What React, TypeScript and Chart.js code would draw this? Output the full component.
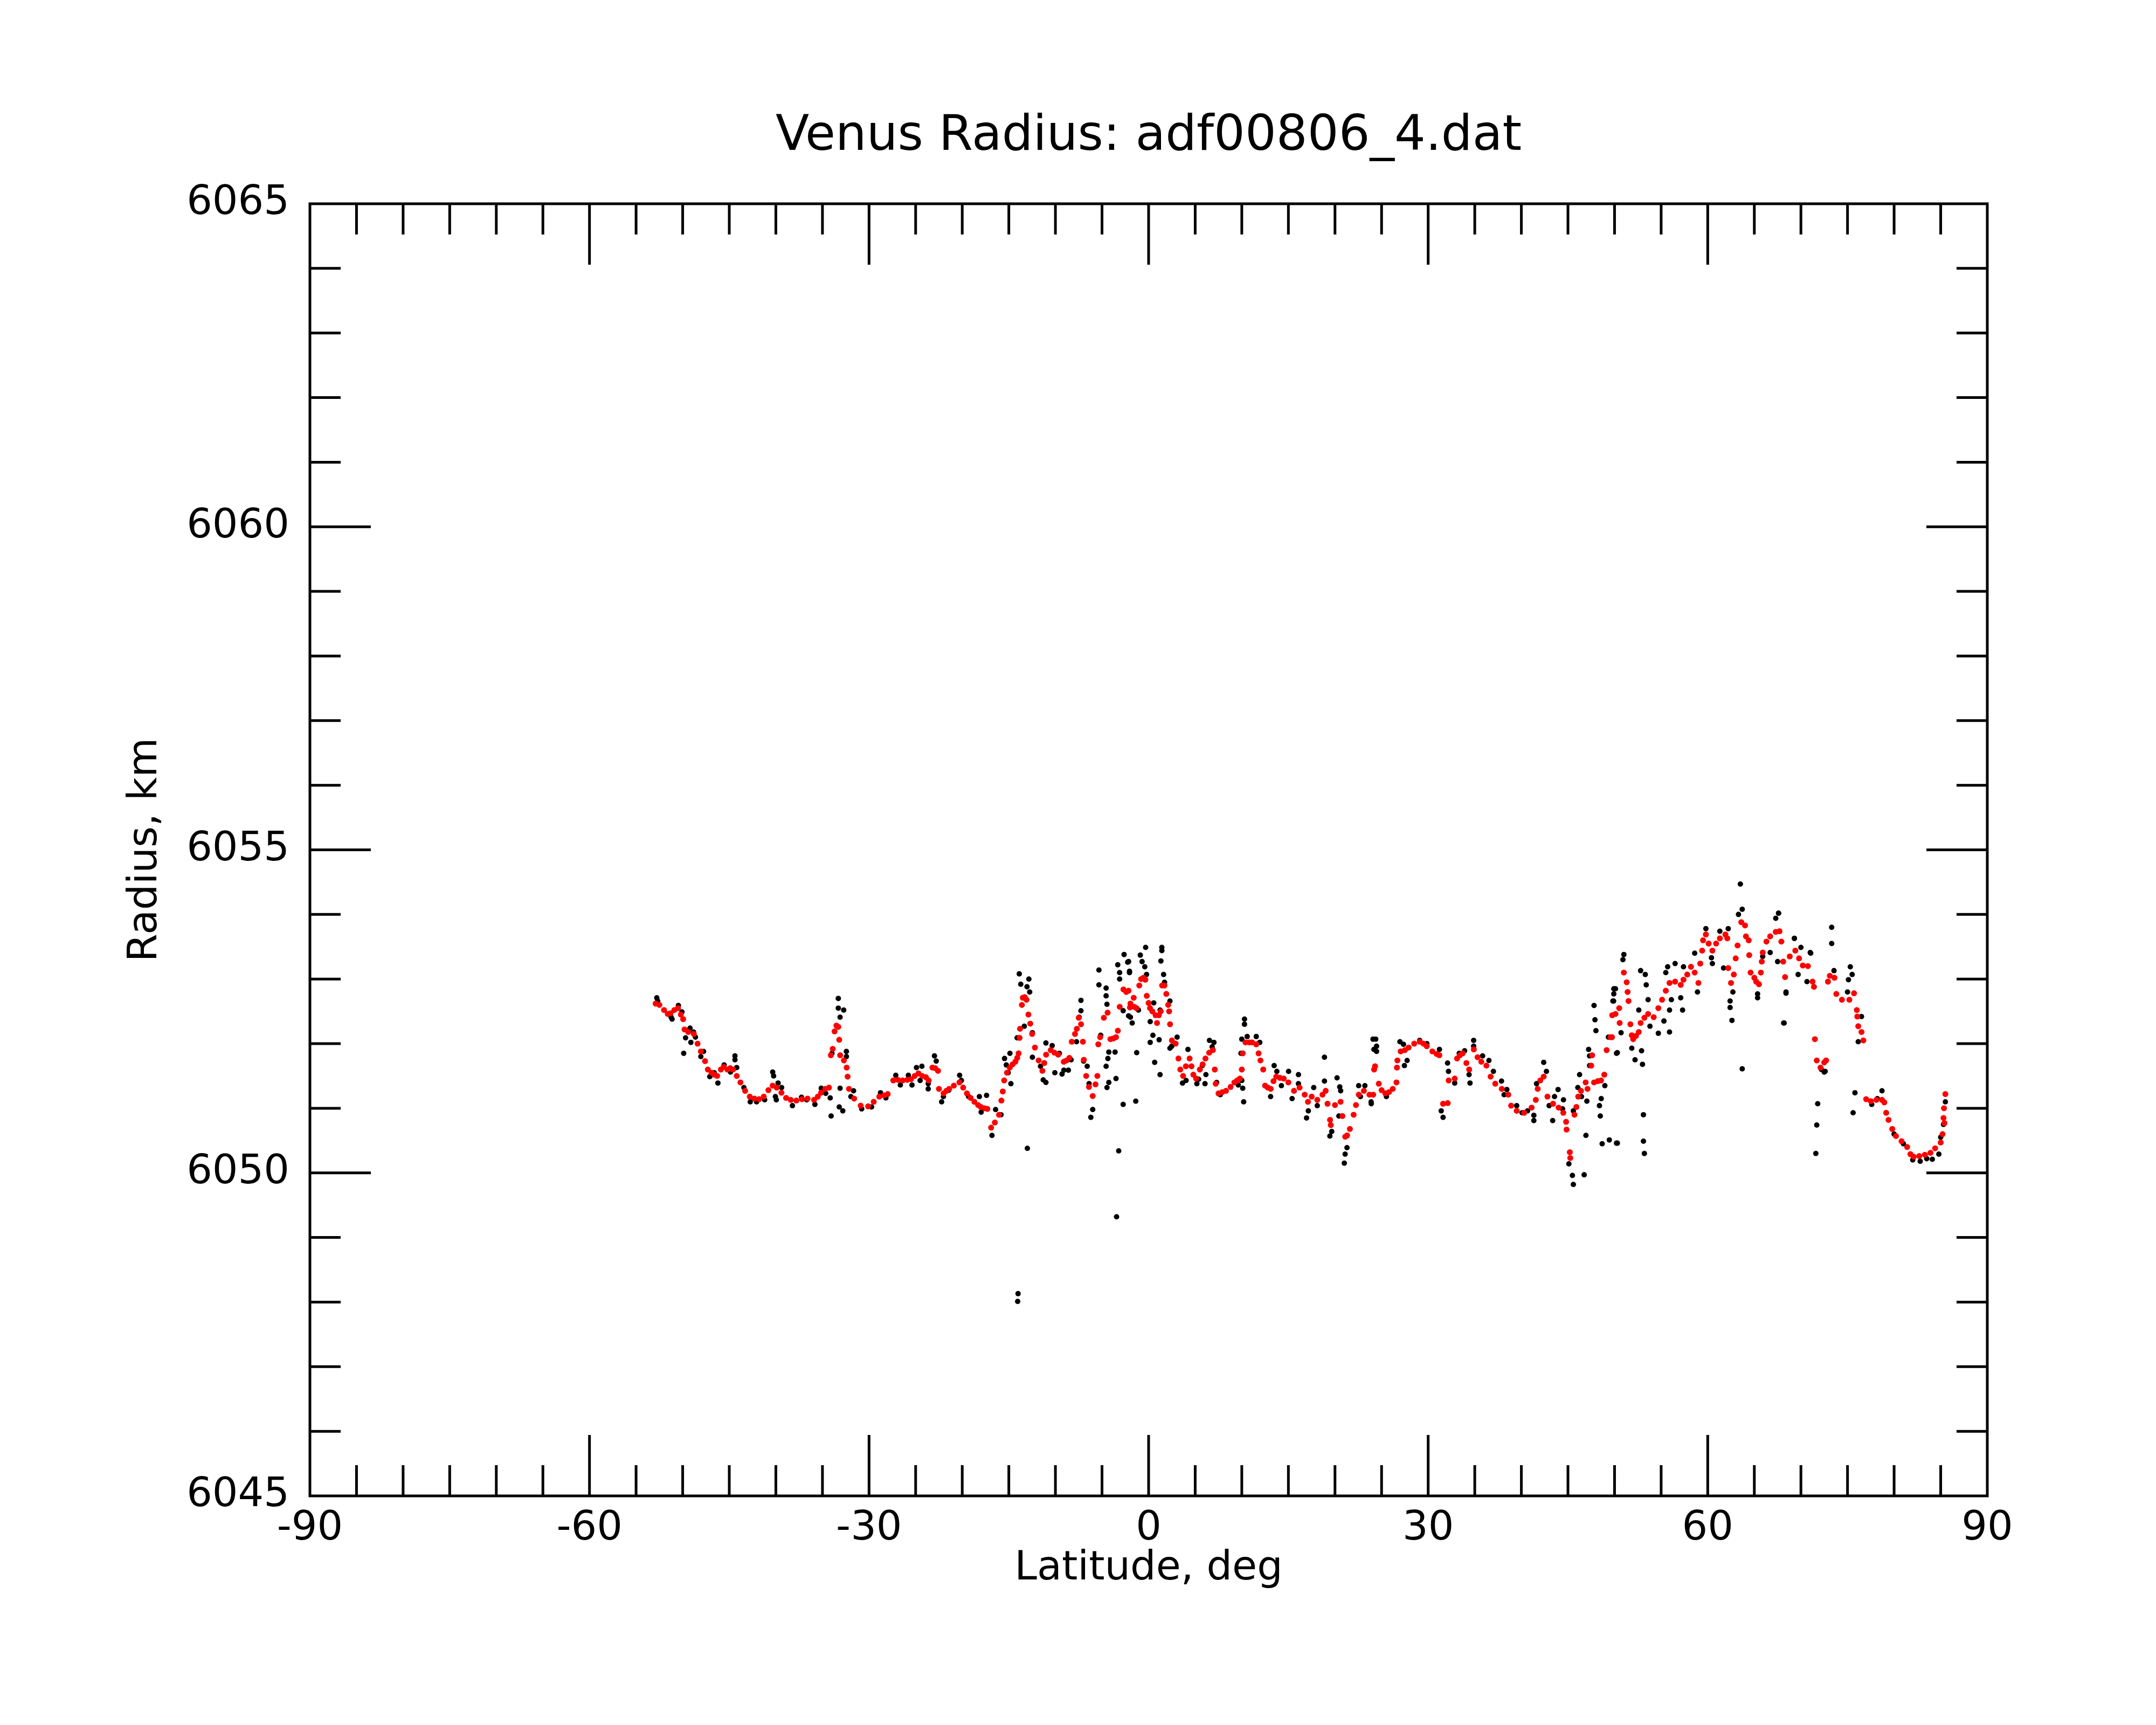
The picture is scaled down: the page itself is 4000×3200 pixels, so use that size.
import React, { useEffect, useRef } from 'react';
import Chart from 'chart.js/auto';

// smoothed radius profile (red)
const redLat = [
  -52.9, -52.5, -52.0, -51.6, -51.3, -50.9, -50.5, -50.2, -49.95, -49.8, -49.4, -48.8, -48.4, -48.05, -47.6, -47.3,
  -46.9, -46.6, -46.3, -45.9, -45.6, -45.2, -44.9, -44.6, -44.2, -43.8, -43.3, -42.8, -42.3, -41.8, -41.3, -40.8,
  -40.35, -39.9, -39.4, -38.9, -38.4, -37.8, -37.2, -36.6, -35.9, -35.5, -35.15, -34.7, -34.3, -34.1, -33.9, -33.7,
  -33.5, -33.3, -33.2, -33.1, -32.7, -32.4, -32.3, -32.15, -31.6, -30.9, -30.1, -29.5, -28.9, -28.4, -28.0,
  -27.4, -26.9, -26.4, -25.9, -25.5, -25.1, -24.7, -24.3, -23.9, -23.6, -23.2, -22.9, -22.6, -22.5, -22.0, -21.7,
  -21.4, -20.9, -20.3, -19.9, -19.5, -19.1, -18.7, -18.3, -18.0, -17.6, -17.3, -16.9, -16.5, -16.05, -15.8, -15.65,
  -15.5, -15.2, -14.9, -14.6, -14.3, -14.1, -13.95, -13.85, -13.8, -13.6, -13.5, -13.3, -13.1, -12.9, -12.7, -12.5,
  -12.2, -11.8, -11.4, -11.2, -11.0, -10.5, -10.1, -9.7, -9.1, -8.8, -8.5, -8.25, -7.9, -7.7, -7.5, -7.25, -7.05,
  -6.95, -6.7, -6.4, -6.0, -5.7, -5.5, -5.4, -5.2, -4.8, -4.4, -4.1, -3.8, -3.5, -3.3, -3.1, -2.7, -2.4,
  -2.15, -2.0, -1.95, -1.6, -1.55, -1.3, -1.0, -0.8, -0.55, -0.35, -0.2, 0.0, 0.15, 0.4, 0.75, 0.9, 1.1, 1.3, 1.45,
  1.7, 1.9, 2.1, 2.2, 2.3, 2.5, 2.9, 3.2, 3.4, 3.7, 4.0, 4.4, 4.6, 4.8, 5.1, 5.5, 5.8, 6.1, 6.5, 6.9, 7.1, 7.2, 7.5,
  7.9, 8.3, 8.8, 9.2, 9.5, 9.8, 10.0, 10.1, 10.4, 10.8, 11.1, 11.55, 11.8, 12.0, 12.3, 12.5, 12.8, 13.1, 13.4, 13.7,
  14.1, 14.5, 15.0, 15.6, 16.2, 16.75, 17.1, 17.5, 18.1, 18.66, 19.0, 19.2, 19.47, 19.55, 20.0, 20.6, 20.8, 21.1,
  21.3, 21.6, 22.0, 22.25, 22.55, 23.1, 23.7,
  24.1, 24.2, 24.3, 24.7, 25.0, 25.4, 25.8, 26.2, 26.6, 26.65, 26.7, 27.05, 27.5, 27.9, 28.5, 29.1, 29.5, 29.85,
  30.45, 30.9, 31.2, 31.6, 32.1, 32.2, 32.85, 33.1, 33.4, 33.7, 34.1, 34.4, 34.9, 35.3, 35.7, 36.25, 36.7, 37.2,
  37.9, 38.6, 38.9, 39.5, 40.3, 41.1, 41.55, 41.75, 42.03, 42.4, 42.8, 43.4, 44.0, 44.5, 44.8, 44.85, 45.2, 45.25,
  45.7, 45.9, 46.1, 46.4, 46.9, 47.1, 47.5, 47.6, 47.8, 48.2, 48.55, 48.9, 49.15, 49.55, 49.73, 49.75,
  50.1, 50.5, 50.55, 51.0, 51.3, 51.4, 51.5, 51.7, 51.85, 52.0, 52.3, 52.6, 52.8, 53.2, 53.6, 54.2, 54.7, 55.1,
  55.5, 55.9, 56.5, 57.1, 57.4, 57.8, 58.2, 58.6, 59.0, 59.2, 59.4, 59.5, 59.8, 60.1, 60.5, 60.9, 61.3, 61.9, 62.1,
  62.2, 62.5, 62.8, 63.0, 63.2, 63.6, 64.0, 64.1, 64.4, 64.45, 64.6, 65.0, 65.2, 65.5, 65.7, 65.8, 65.9, 66.3, 66.7,
  67.3, 67.7, 67.9, 68.1, 68.3, 68.8, 69.4, 69.8, 70.2, 70.75, 71.25, 71.4, 71.5, 71.7, 72.1, 72.5, 72.7, 72.9, 73.1,
  73.6, 73.8, 74.4, 75.2, 75.7, 76.0, 76.05, 76.15, 76.5, 76.7, 77.0, 77.5, 78.1, 78.7, 78.95, 79.15, 79.4, 79.8,
  80.2, 80.8, 81.4, 81.75, 82.1, 82.7, 83.3, 83.9, 84.4, 85.0, 85.2, 85.3, 85.35, 85.4, 85.5,
];
const redRadius = [
  6052.62, 6052.60, 6052.52, 6052.46, 6052.47, 6052.52, 6052.55, 6052.45, 6052.38, 6052.22, 6052.18, 6052.15, 6052.00, 6051.88, 6051.73, 6051.60,
  6051.55, 6051.52, 6051.50, 6051.60, 6051.64, 6051.60, 6051.62, 6051.60, 6051.50, 6051.40, 6051.27, 6051.18, 6051.15, 6051.14, 6051.18, 6051.28,
  6051.35, 6051.32, 6051.24, 6051.16, 6051.13, 6051.12, 6051.14, 6051.15, 6051.13, 6051.18, 6051.24, 6051.30, 6051.32, 6051.82, 6051.92, 6052.19,
  6052.28, 6052.26, 6052.06, 6051.82, 6051.74, 6051.63, 6051.49, 6051.30, 6051.15, 6051.04, 6051.03, 6051.10, 6051.18, 6051.20, 6051.22,
  6051.43, 6051.44, 6051.43, 6051.44, 6051.45, 6051.50, 6051.54, 6051.50, 6051.48, 6051.43, 6051.63, 6051.62, 6051.58, 6051.30, 6051.23, 6051.27,
  6051.30, 6051.35, 6051.40, 6051.32, 6051.23, 6051.16, 6051.10, 6051.05, 6051.02, 6051.00, 6050.99, 6050.70, 6050.78, 6050.90, 6051.12, 6051.26,
  6051.43, 6051.55, 6051.63, 6051.68, 6051.72, 6051.78, 6051.85, 6052.09, 6052.23, 6052.60, 6052.71, 6052.72, 6052.68, 6052.45, 6052.31, 6052.15,
  6051.94, 6051.74, 6051.58, 6051.70, 6051.83, 6051.90, 6051.86, 6051.83, 6051.72, 6051.74, 6051.78, 6052.03, 6052.15, 6052.23, 6052.40, 6052.30, 6052.03,
  6051.75, 6051.50, 6051.33, 6051.19, 6051.37, 6051.50, 6051.99, 6052.10, 6052.40, 6052.48, 6052.07, 6052.08, 6052.10, 6052.20, 6052.57, 6052.84, 6052.80,
  6052.82, 6052.56, 6052.62, 6052.71, 6052.57, 6052.55, 6052.90, 6053.00, 6053.02, 6052.99, 6052.74, 6052.63, 6052.55, 6052.50, 6052.44, 6052.32, 6052.44, 6052.50, 6052.90,
  6052.90, 6052.77, 6052.60, 6052.50, 6052.30, 6052.05, 6052.00, 6051.77, 6051.60, 6051.50, 6051.65, 6051.77, 6051.65, 6051.52, 6051.46, 6051.60, 6051.68, 6051.77, 6051.86, 6051.90, 6051.60, 6051.38, 6051.23,
  6051.25, 6051.27, 6051.33, 6051.40, 6051.43, 6051.46, 6051.60, 6051.85, 6052.02, 6052.02, 6052.02, 6051.99, 6051.85, 6051.74, 6051.60, 6051.35, 6051.32, 6051.30, 6051.42, 6051.49,
  6051.47, 6051.46, 6051.40, 6051.27, 6051.32, 6051.21, 6051.10, 6051.18, 6051.13, 6051.21, 6051.27, 6051.07, 6050.82, 6050.74, 6051.05, 6051.10, 6050.88, 6050.56,
  6050.58, 6050.68, 6050.90, 6051.05, 6051.21, 6051.27, 6051.21,
  6051.21, 6051.60, 6051.65, 6051.38, 6051.28, 6051.23, 6051.25, 6051.30, 6051.40, 6051.63, 6051.74, 6051.88, 6051.90, 6051.94, 6052.00, 6052.03, 6052.00, 6051.96,
  6051.88, 6051.84, 6051.82, 6051.07, 6051.08, 6051.43, 6051.46, 6051.77, 6051.82, 6051.85, 6051.70, 6051.60, 6051.91, 6051.79, 6051.72, 6051.66, 6051.49, 6051.38,
  6051.30, 6051.21, 6051.04, 6050.96, 6050.93, 6051.01, 6051.13, 6051.30, 6051.43, 6051.49, 6051.18, 6051.07, 6051.01, 6050.93, 6050.79, 6050.67, 6050.32, 6050.23,
  6050.90, 6051.02, 6051.18, 6051.27, 6051.40, 6051.30, 6051.66, 6051.82, 6051.40, 6051.42, 6051.43, 6051.52, 6051.90, 6052.10, 6052.10, 6052.44,
  6052.46, 6052.55, 6052.32, 6053.10, 6052.95, 6052.80, 6052.66, 6052.30, 6052.13, 6052.07, 6052.12, 6052.18, 6052.32, 6052.40, 6052.46, 6052.41, 6052.55, 6052.68,
  6052.82, 6052.94, 6052.96, 6052.91, 6052.99, 6053.07, 6053.19, 6053.10, 6052.94, 6053.24, 6053.44, 6053.60, 6053.69, 6053.55, 6053.44, 6053.55, 6053.63, 6053.69, 6053.63,
  6053.17, 6052.94, 6053.07, 6053.32, 6053.52, 6053.88, 6053.83, 6053.66, 6053.60, 6053.37, 6053.10, 6053.02, 6052.96, 6052.92, 6053.10, 6053.27, 6053.41, 6053.58, 6053.66,
  6053.73, 6053.74, 6053.58, 6053.27, 6053.03, 6053.35, 6053.44, 6053.32, 6053.21, 6053.20, 6052.96, 6052.88, 6052.07, 6051.74, 6051.63, 6051.71, 6051.74, 6052.96, 6053.05,
  6053.02, 6052.77, 6052.68, 6052.68, 6052.78, 6052.52, 6052.42, 6052.27, 6052.18, 6052.05, 6051.14, 6051.11, 6051.13, 6051.13, 6051.09, 6050.93, 6050.82, 6050.68,
  6050.57, 6050.49, 6050.40, 6050.29, 6050.25, 6050.26, 6050.28, 6050.31, 6050.38, 6050.47, 6050.60, 6050.85, 6051.00, 6050.77, 6051.22,
];

// raw radius measurements (black)
const blackLat = [
  -52.78, -52.68, -51.24, -51.14, -50.46, -50.08, -49.89, -49.21, -48.83, -49.69, -49.12, -48.63, -47.76, -48.05, -47.09, -46.22,
  -46.61, -45.55, -44.87, -44.39, -44.39, -44.2, -43.43, -42.75, -42.07, -41.2, -40.34, -40.24, -40.05, -39.95, -39.76, -39.38,
  -38.22, -37.25, -36.68, -35.81, -35.13, -34.65, -34.17, -34.07, -33.98, -33.3, -33.3, -32.72, -33.11, -33.11, -33.2, -32.82,
  -32.43, -32.43, -31.95, -31.66, -30.79, -29.73, -28.77, -28.19,
  -27.13, -26.64, -25.78, -25.39, -24.91, -24.33, -24.52, -23.65, -23.65, -22.98, -22.79, -22.21, -22.02, -21.44, -20.28, -20.09,
  -19.32, -18.16, -17.97, -17.39, -16.81, -16.42, -15.84, -15.46, -15.27, -14.88, -15.07, -14.78, -14.11, -13.88, -13.72, -13.05,
  -12.85, -12.76, -13.34, -12.47, -13.01, -14.01, -14.05, -12.47, -11.6, -11.31, -11.02, -11.02, -10.35, -10.06, -9.58, -9.29,
  -9.09, -8.61, -8.32, -7.74, -7.26, -7.26, -7.45, -6.97, -6.59, -6.39, -6.2, -6.0, -5.33, -5.33, -4.56, -4.56, -4.47, -5.14,
  -4.27, -4.37, -4.56, -4.27, -4.47, -3.6, -3.5, -3.21, -3.44, -3.31, -3.11, -2.63, -2.25, -2.05, -3.11, -2.73, -2.73, -2.15,
  -2.15, -2.05, -1.76, -1.95, -1.28, -1.38, -1.09, -0.89, -0.7, -0.41, -0.32, -0.22, 0.17, 0.55, 0.46, 0.17, 1.13, 0.65, 1.23,
  1.23, 1.42, 1.42, 1.32, 1.61, 1.71, 2.29, 2.29, 3.06, 2.48, 4.22, 3.64, 4.02, 5.18, 5.37, 6.05, 6.15, 5.76, 6.53, 7.01, 6.82,
  7.3, 7.69, 9.62, 10.0, 10.29, 10.29, 10.0, 9.91, 10.1, 10.2, 10.58, 11.55, 11.93, 13.47, 13.76, 13.09, 14.25, 15.02, 15.4,
  16.08, 16.08, 16.95, 17.14, 17.72, 18.1, 18.87, 18.87, 19.45, 19.65, 20.22, 20.51, 20.61, 20.42, 21.29, 21.09, 21.0, 22.54,
  22.73, 23.21, 23.89, 24.08, 24.18,
  24.37, 24.46, 24.46, 23.88, 25.52, 26.97, 27.35, 27.74, 27.45, 29.09, 29.86, 31.21, 32.08, 32.18, 31.4, 31.6, 32.85, 33.33,
  33.91, 34.39, 34.49, 34.88, 34.88, 35.84, 36.52, 37.0, 37.87, 38.44, 38.15, 39.5, 40.08, 40.66, 41.34, 41.34, 41.63, 42.4,
  42.69, 42.98, 43.36, 43.56, 43.94, 44.52, 44.42, 45.1, 45.48, 45.58, 45.58, 46.74, 46.93, 46.25, 46.06, 46.45, 47.03, 47.22,
  47.32, 47.32, 47.8, 47.9, 48.0, 48.57, 48.38, 48.47, 48.67, 49.44, 50.21, 48.96, 49.34, 49.92, 49.92, 49.82, 50.21,
  63.5, 63.7, 63.3, 67.6, 67.3, 73.3, 73.3, 59.8, 61.3, 62.2, 58.6, 51.0, 50.9, 56.5, 55.7, 57.4, 52.8, 53.3, 55.5, 50.1,
  53.4, 56.1, 57.1, 57.3, 49.9, 53.6, 52.6, 55.9, 55.3, 53.8, 54.7, 55.9, 50.7, 50.3, 51.85, 52.9, 52.2, 53.0, 53.1, 53.1,
  53.2, 50.3, 60.5, 60.4, 58.9, 62.7, 62.4, 62.4, 62.6, 63.7, 61.7, 65.35, 65.35, 65.9, 66.7, 67.5, 68.2, 68.4, 69.3, 70.0,
  71.0, 69.7, 70.65, 71.8, 71.7, 71.6, 73.55, 75.0, 75.3, 75.8, 75.6, 76.15, 72.6, 72.2, 72.5,
  67.6, 69.3, 71.05, 68.15, 68.4, 75.5, 75.1, 76.5, 78.7, 77.6, 78.2, 80.0, 81.0, 82.0, 82.8, 83.5, 84.1, 84.8, 85.0, 85.3, 85.5,
];
const blackRadius = [
  6052.71, 6052.66, 6052.41, 6052.38, 6052.59, 6052.49, 6051.85, 6052.24, 6052.18, 6052.09, 6052.02, 6052.10, 6051.88, 6051.80, 6051.49, 6051.39,
  6051.55, 6051.67, 6051.56, 6051.81, 6051.75, 6051.63, 6051.32, 6051.10, 6051.10, 6051.13, 6051.56, 6051.50, 6051.18, 6051.13, 6051.39, 6051.32,
  6051.04, 6051.17, 6051.13, 6051.06, 6051.31, 6051.23, 6051.16, 6050.88, 6051.85, 6052.70, 6052.55, 6052.52, 6052.41, 6051.31, 6051.02, 6050.96,
  6051.88, 6051.80, 6051.18, 6051.27, 6050.99, 6051.02, 6051.24, 6051.16,
  6051.51, 6051.36, 6051.51, 6051.36, 6051.63, 6051.65, 6051.43, 6051.30, 6051.38, 6051.81, 6051.73, 6051.10, 6051.18, 6051.28, 6051.51, 6051.43,
  6051.18, 6051.18, 6050.94, 6051.20, 6050.58, 6050.98, 6050.90, 6051.77, 6051.67, 6051.85, 6051.55, 6051.38, 6052.09, 6053.08, 6052.92, 6052.88,
  6053.00, 6052.80, 6052.27, 6052.17, 6050.38, 6048.13, 6048.01, 6051.79, 6051.65, 6051.44, 6051.40, 6052.01, 6051.97, 6051.55, 6051.85, 6051.53,
  6051.59, 6051.59, 6051.75, 6052.03, 6052.67, 6052.51, 6052.41, 6051.73, 6051.65, 6051.38, 6050.86, 6050.98, 6053.14, 6052.91, 6052.86, 6052.74, 6052.61, 6052.13,
  6051.87, 6051.77, 6051.65, 6051.40, 6051.32, 6051.87, 6051.46, 6050.34, 6049.32, 6053.22, 6053.10, 6053.38, 6053.26, 6053.10, 6053.00, 6051.06, 6052.51, 6052.43,
  6053.27, 6053.12, 6052.32, 6052.41, 6051.86, 6051.11, 6052.52, 6053.37, 6053.27, 6053.19, 6053.49, 6053.07, 6052.34, 6052.63, 6052.13, 6052.02, 6052.06, 6051.71, 6051.52,
  6052.52, 6053.49, 6053.44, 6053.28, 6053.07, 6052.95, 6052.66, 6051.93, 6052.10, 6051.96, 6051.91, 6051.39, 6051.43, 6051.38, 6051.45, 6051.38, 6051.52, 6051.66, 6052.05, 6052.02, 6051.95,
  6051.40, 6051.21, 6051.36, 6051.43, 6052.38, 6052.30, 6052.07, 6051.85, 6051.31, 6051.10, 6052.11, 6052.11, 6052.02, 6051.66, 6051.57, 6051.18, 6051.35, 6051.57, 6051.15,
  6051.52, 6051.38, 6050.85, 6050.96, 6051.32, 6051.04, 6051.79, 6051.42, 6050.57, 6050.64, 6051.47, 6051.33, 6051.27, 6050.88, 6050.39, 6050.29, 6050.15, 6051.35,
  6051.18, 6051.35, 6051.07, 6052.07, 6051.91,
  6052.07, 6051.96, 6051.88, 6051.10, 6051.18, 6052.03, 6051.99, 6051.74, 6051.66, 6052.05, 6052.00, 6051.91, 6051.70, 6051.57, 6050.96, 6050.86, 6051.39, 6051.85,
  6051.89, 6051.52, 6051.39, 6052.05, 6051.96, 6051.81, 6051.74, 6051.57, 6051.42, 6051.29, 6051.21, 6051.04, 6050.93, 6050.96, 6050.89, 6050.81, 6051.38, 6051.71,
  6051.57, 6051.04, 6050.81, 6051.18, 6051.29, 6051.13, 6050.99, 6050.14, 6049.96, 6049.82, 6050.96, 6049.97, 6050.58, 6051.52, 6051.32, 6051.18, 6051.11, 6051.91,
  6051.81, 6051.66, 6052.59, 6052.37, 6052.20, 6051.15, 6051.04, 6050.88, 6050.45, 6050.51, 6050.46, 6051.35, 6052.10, 6052.85, 6052.77, 6052.66, 6051.85,
  6054.47, 6054.08, 6054.00, 6054.02, 6053.94, 6053.80, 6053.55, 6053.78, 6053.74, 6053.78, 6053.40, 6053.38, 6053.30, 6053.24, 6053.19, 6053.19, 6053.13, 6053.07, 6053.10, 6052.85,
  6052.91, 6052.68, 6052.71, 6052.52, 6052.66, 6052.68, 6052.52, 6052.52, 6052.35, 6052.27, 6052.16, 6052.18, 6052.17, 6051.86, 6051.93, 6051.89, 6051.75, 6051.68, 6050.90, 6050.49,
  6050.30, 6050.46, 6053.24, 6053.33, 6052.80, 6052.80, 6052.66, 6052.56, 6052.36, 6051.61, 6053.17, 6052.77, 6052.71, 6053.35, 6053.41, 6053.27, 6052.32, 6052.80, 6053.63, 6053.49,
  6053.41, 6053.07, 6052.96, 6051.07, 6050.74, 6050.30, 6053.13, 6052.80, 6053.19, 6051.24, 6050.93, 6052.03, 6051.57, 6051.60, 6051.56,
  6054.02, 6053.63, 6053.40, 6052.32, 6052.78, 6053.07, 6052.99, 6052.42, 6051.27, 6051.06, 6051.15, 6050.60, 6050.45, 6050.20, 6050.18, 6050.22, 6050.21, 6050.29, 6050.55, 6050.75, 6051.10,
];

const latTicks = [-90, -60, -30, 0, 30, 60, 90];
const radiusTicks = [6045, 6050, 6055, 6060, 6065];

const FONT = 'DejaVu Sans';

const toPoints = (xs: number[], ys: number[]) => xs.map((x, i) => ({ x, y: ys[i] }));

// box frame with inward major/minor ticks on all four sides
const frameTicks = {
  id: 'frameTicks',
  afterDraw(chart: any) {
    const { ctx, chartArea, scales } = chart;
    const { left, right, top, bottom } = chartArea;
    ctx.save();
    ctx.strokeStyle = '#000';
    ctx.lineWidth = 5;
    ctx.beginPath();
    for (let v = -85; v < 90; v += 5) {
      const px = scales.x.getPixelForValue(v);
      const len = latTicks.includes(v) ? 113 : 57;
      ctx.moveTo(px, bottom);
      ctx.lineTo(px, bottom - len);
      ctx.moveTo(px, top);
      ctx.lineTo(px, top + len);
    }
    for (let v = 6046; v < 6065; v++) {
      const py = scales.y.getPixelForValue(v);
      const len = radiusTicks.includes(v) ? 113 : 57;
      ctx.moveTo(left, py);
      ctx.lineTo(left + len, py);
      ctx.moveTo(right, py);
      ctx.lineTo(right - len, py);
    }
    ctx.stroke();
    ctx.strokeRect(left, top, right - left, bottom - top);
    ctx.restore();
  },
};

const App: React.FC = () => {
  const canvasRef = useRef<HTMLCanvasElement | null>(null);

  useEffect(() => {
    const ctx = canvasRef.current?.getContext('2d');
    if (!ctx) return;

    const tickFont = { family: FONT, size: 75 };

    const chart = new Chart(ctx, {
      type: 'scatter',
      data: {
        datasets: [
          {
            label: 'smoothed',
            data: toPoints(redLat, redRadius),
            backgroundColor: '#ff0000',
            borderWidth: 0,
            pointRadius: 5.5,
            pointHoverRadius: 5.5,
          },
          {
            label: 'raw',
            data: toPoints(blackLat, blackRadius),
            backgroundColor: '#000000',
            borderWidth: 0,
            pointRadius: 5,
            pointHoverRadius: 5,
          },
        ],
      },
      plugins: [frameTicks],
      options: {
        animation: false,
        responsive: false,
        devicePixelRatio: 1,
        layout: { padding: 0 },
        plugins: {
          legend: { display: false },
          tooltip: { enabled: false },
        },
        scales: {
          x: {
            type: 'linear',
            position: 'bottom',
            min: -90,
            max: 90,
            grid: { display: false },
            border: { display: false },
            ticks: {
              stepSize: 30,
              padding: 9,
              maxRotation: 0,
              autoSkip: false,
              color: '#000',
              font: tickFont,
              callback: (v: any) => String(v),
            },
            title: {
              display: true,
              text: 'Latitude, deg',
              color: '#000',
              font: tickFont,
              padding: { top: 0, bottom: 244 },
            },
            afterFit: (s: any) => { s.height = 425; },
          },
          xTop: {
            type: 'linear',
            position: 'top',
            min: -90,
            max: 90,
            grid: { display: false },
            border: { display: false },
            ticks: { display: false },
            title: {
              display: true,
              text: 'Venus Radius: adf00806_4.dat',
              color: '#000',
              font: { family: FONT, size: 91 },
              padding: { top: 200, bottom: 0 },
            },
            afterFit: (s: any) => { s.height = 378; },
          },
          y: {
            type: 'linear',
            position: 'left',
            min: 6045,
            max: 6065,
            grid: { display: false },
            border: { display: false },
            ticks: {
              stepSize: 5,
              padding: 30,
              color: '#000',
              font: tickFont,
              callback: (v: any) => String(v),
            },
            title: {
              display: true,
              text: 'Radius, km',
              color: '#000',
              font: tickFont,
              padding: { top: 226, bottom: 0 },
            },
            afterFit: (s: any) => { s.width = 575; },
          },
          yRight: {
            type: 'linear',
            position: 'right',
            min: 6045,
            max: 6065,
            grid: { display: false },
            border: { display: false },
            ticks: { display: false },
            afterFit: (s: any) => { s.width = 313; },
          },
        },
      },
    });

    return () => {
      chart.destroy();
    };
  }, []);

  return (
    <div style={{ position: 'absolute', left: 0, top: 0, width: 4000, height: 3200, background: '#fff' }}>
      <canvas ref={canvasRef} width={4000} height={3200} style={{ display: 'block' }}></canvas>
    </div>
  );
};

export default App;
